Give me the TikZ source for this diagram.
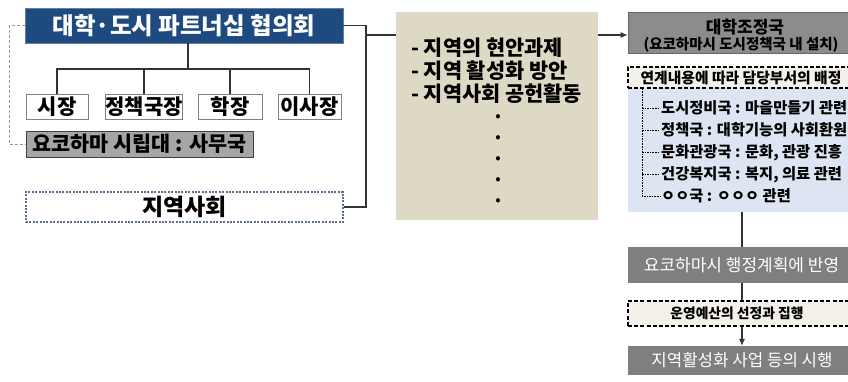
\documentclass[tikz,border=0pt]{standalone}
\usepackage{fontspec}
\setmainfont{Noto Sans CJK KR}
\usetikzlibrary{arrows.meta}
\newcommand\fsz[1]{\fontsize{#1}{#1}\selectfont}
\definecolor{navy}{HTML}{1F4A80}
\definecolor{beige}{HTML}{DDD9C4}
\definecolor{lblue}{HTML}{DCE5F1}
\definecolor{cream}{HTML}{F3F1EA}
\definecolor{midgray}{HTML}{8C8C8C}
\definecolor{dkgray}{HTML}{7F7F7F}
\definecolor{sgray}{HTML}{A6A6A6}
\definecolor{dotblue}{HTML}{5A6E94}
\tikzset{
  con/.style={draw=black!80, line width=1.1pt},
  box/.style={rectangle, inner sep=0pt},
  wbox/.style={box, draw=gray, fill=white, line width=0.9pt, font=\fsz{21}\bfseries},
  dbox/.style={box, draw=black, fill=cream, line width=1.4pt, dash pattern=on 4pt off 2.2pt},
  gbox/.style={box, fill=dkgray, text=white},
  item/.style={anchor=west, inner sep=1pt, font=\fsz{15.3}\bfseries},
  btxt/.style={anchor=west, inner sep=0pt, font=\fsz{20.8}\bfseries},
  dotm/.style={inner sep=0pt, font=\fsz{16}},
  tree/.style={draw=black, line width=0.7pt, dash pattern=on 1.6pt off 1pt},
}
\begin{document}
\begin{tikzpicture}[x=1pt,y=-1pt]
\useasboundingbox (0,0) rectangle (848,381);
\clip (0,0) rectangle (848,381);
\fill[white] (0,0) rectangle (848,381);
% left part
\node[box, fill=navy, draw=navy!70, minimum width=318pt, minimum height=35pt, text=white, font=\fsz{23.5}\bfseries] (top) at (184,25.5) {대학·도시 파트너십 협의회};
\node[wbox, minimum width=62pt, minimum height=25pt] (n1) at (57,106.5) {시장};
\node[wbox, minimum width=74pt, minimum height=25pt] (n2) at (144,106.5) {정책국장};
\node[wbox, minimum width=64pt, minimum height=25pt] (n3) at (230,106.5) {학장};
\node[wbox, minimum width=63pt, minimum height=25pt] (n4) at (309.5,106.5) {이사장};
\node[box, fill=sgray, draw=black!75, line width=0.9pt, minimum width=227pt, minimum height=26pt, font=\fsz{20.7}\bfseries] (samu) at (139.5,144) {요코하마 시립대 : 사무국};
\node[box, draw=dotblue, line width=2pt, dash pattern=on 2pt off 1.4pt, minimum width=317pt, minimum height=30pt, font=\fsz{23}\bfseries] (jy) at (184.5,207) {지역사회};
% tree of left part
\coordinate (hub) at (188,69);
\draw[con] (top.south -| hub) -- (hub);
\draw[con] (n1.north) -- (n1.north |- hub) -- (n4.north |- hub) -- (n4.north);
\draw[con] (n2.north) -- (n2.north |- hub);
\draw[con] (n3.north) -- (n3.north |- hub);
\coordinate (lk) at (9,25.5);
\draw[draw=gray!80, line width=0.9pt, dash pattern=on 3pt off 2pt] (top.west) -- (lk) |- (samu.west);
% right column
\node[box, fill=midgray, draw=black!60, line width=0.8pt, minimum width=222pt, minimum height=41pt] (jo) at (739,32.5) {};
\node[inner sep=0pt, font=\fsz{17}\bfseries] (jot) at (745,27) {대학조정국};
\node[inner sep=0pt, font=\fsz{14.5}\bfseries] (jos) at (741,44.5) {(요코하마시 도시정책국 내 설치)};
\node[box, fill=lblue, minimum width=222pt, minimum height=124pt] (blue) at (739,150) {};
\node[dbox, minimum width=222pt, minimum height=21pt] (yg) at (739,77.5) {};
\node[inner sep=0pt, font=\fsz{14.8}\bfseries] (ygt) at (741,78) {연계내용에 따라 담당부서의 배정};
\node[item] (i1) at (660,108) {도시정비국 : 마을만들기 관련};
\node[item] (i2) at (660,130) {정책국 : 대학기능의 사회환원};
\node[item] (i3) at (660,152.5) {문화관광국 : 문화, 관광 진흥};
\node[item] (i4) at (660,174.5) {건강복지국 : 복지, 의료 관련};
\node[item] (i5) at (660,196) {ㅇㅇ국 : ㅇㅇㅇ 관련};
\coordinate (tx) at (642,0);
\draw[tree] (yg.south -| tx) |- (i5.west);
\draw[tree] (i1.west -| tx) -- (i1.west);
\draw[tree] (i2.west -| tx) -- (i2.west);
\draw[tree] (i3.west -| tx) -- (i3.west);
\draw[tree] (i4.west -| tx) -- (i4.west);
\node[gbox, minimum width=222pt, minimum height=36pt, font=\fsz{17}] (hw) at (739,265) {\hspace*{5pt}요코하마시 행정계획에 반영};
\node[gbox, minimum width=222pt, minimum height=29pt, font=\fsz{16.8}] (sh) at (739,360.5) {\hspace*{6pt}지역활성화 사업 등의 시행};
\coordinate (vx) at (742,0);
\draw[con] (blue.south -| vx) -- (hw.north -| vx);
\draw[con, -{Latex[length=7pt,width=6pt]}] (hw.south -| vx) -- (sh.north -| vx);
\node[dbox, minimum width=222pt, minimum height=25pt, font=\fsz{13.8}\bfseries] (uy) at (739,313.5) {\hspace*{-4pt}운영예산의 선정과 집행};
% connectors from left to right
\coordinate (rk) at (366,25.5);
\draw[con] (top.east) -- (rk) |- (jy.east);
\coordinate (ra) at (366,35);
\draw[con, -{Latex[length=7pt,width=6pt]}] (ra) -- (ra -| jo.west);
% beige box
\node[box, fill=beige, minimum width=202pt, minimum height=208pt] (bg) at (497,116) {};
\node[btxt] (b1) at (411,48) {- 지역의 현안과제};
\node[btxt] (b2) at (411,71) {- 지역 활성화 방안};
\node[btxt] (b3) at (411,94) {- 지역사회 공헌활동};
\node[dotm] (d1) at (498,118) {•};
\node[dotm] (d2) at (498,139) {•};
\node[dotm] (d3) at (498,160) {•};
\node[dotm] (d4) at (498,181) {•};
\node[dotm] (d5) at (498,202) {•};
\end{tikzpicture}
\end{document}
